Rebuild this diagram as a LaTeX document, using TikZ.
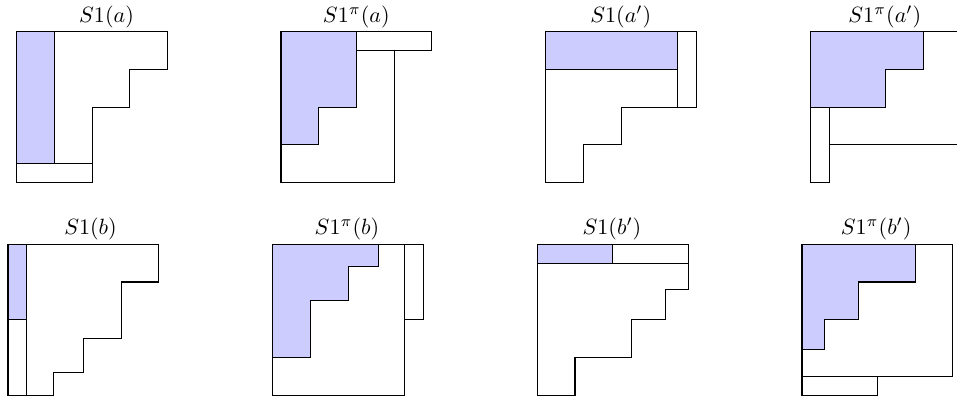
\documentclass[tikz,border=0pt]{standalone}
\begin{document}
\begin{tikzpicture}[x=0.6cm, y=-0.6cm, line width=0.5pt, line join=miter,
  part/.style={fill=blue!20, draw=black},
  cell/.style={draw=black},
  ttl/.style={anchor=base, inner sep=0pt}]
\useasboundingbox (0,0) rectangle (25.385,10.557);
\clip (0,0) rectangle (25.385,10.557);

% ---------- top row ----------
% S1(a)
\node[ttl] (ta) at (2.825,0.597) {$S1(a)$};
\begin{scope}[shift={(0.443,0.841)}]
  \draw[part] (0,0) rectangle (1,3.5);
  \draw[cell] (1,0) -- (4,0) -- (4,1) -- (3,1) -- (3,2) -- (2,2) -- (2,3.5) -- (1,3.5);
  \draw[cell] (0,3.5) rectangle (2,4);
\end{scope}

% S1^pi(a)
\node[ttl] (tpa) at (9.451,0.597) {$S1^{\pi}(a)$};
\begin{scope}[shift={(7.454,0.841)}]
  \draw[cell] (2,0.5) -- (3,0.5) -- (3,4) -- (0,4) -- (0,0);
  \draw[part] (0,0) -- (2,0) -- (2,2) -- (1,2) -- (1,3) -- (0,3) -- cycle;
  \draw[cell] (2,0) rectangle (4,0.5);
\end{scope}

% S1(a')
\node[ttl] (tap) at (16.467,0.597) {$S1(a')$};
\begin{scope}[shift={(14.475,0.841)}]
  \draw[part] (0,0) rectangle (3.5,1);
  \draw[cell] (3.5,0) rectangle (4,2);
  \draw[cell] (0,1) -- (0,4) -- (1,4) -- (1,3) -- (2,3) -- (2,2) -- (3.5,2);
\end{scope}

% S1^pi(a')
\node[ttl] (tpap) at (23.469,0.597) {$S1^{\pi}(a')$};
\begin{scope}[shift={(21.493,0.841)}]
  \draw[cell] (3,0) -- (4,0) -- (4,3) -- (0.5,3);
  \draw[part] (0,0) -- (3,0) -- (3,1) -- (2,1) -- (2,2) -- (0,2) -- cycle;
  \draw[cell] (0,2) rectangle (0.5,4);
\end{scope}

% ---------- bottom row ----------
% S1(b)
\node[ttl] (tb) at (2.401,6.233) {$S1(b)$};
\begin{scope}[shift={(0.212,6.480)}]
  \draw[part] (0,0) rectangle (0.5,2);
  \draw[cell] (0,2) rectangle (0.5,4);
  \draw[cell] (0.5,0) -- (4,0) -- (4,1) -- (3,1) -- (3,2.5) -- (2,2.5) -- (2,3.4) -- (1.2,3.4) -- (1.2,4) -- (0.5,4);
\end{scope}

% S1^pi(b)
\node[ttl] (tpb) at (9.204,6.233) {$S1^{\pi}(b)$};
\begin{scope}[shift={(7.233,6.480)}]
  \draw[cell] (0,0) rectangle (3.5,4);
  \draw[part] (0,0) -- (2.8,0) -- (2.8,0.6) -- (2,0.6) -- (2,1.5) -- (1,1.5) -- (1,3) -- (0,3) -- cycle;
  \draw[cell] (3.5,0) rectangle (4,2);
\end{scope}

% S1(b')
\node[ttl] (tbp) at (16.233,6.233) {$S1(b')$};
\begin{scope}[shift={(14.252,6.480)}]
  \draw[cell] (0,0) rectangle (4,0.5);
  \draw[part] (0,0) rectangle (2,0.5);
  \draw[cell] (0,0.5) -- (0,4) -- (1,4) -- (1,3) -- (2.5,3) -- (2.5,2) -- (3.4,2) -- (3.4,1.2) -- (4,1.2) -- (4,0.5);
\end{scope}

% S1^pi(b')
\node[ttl] (tpbp) at (23.241,6.233) {$S1^{\pi}(b')$};
\begin{scope}[shift={(21.273,6.480)}]
  \draw[cell] (0,0) rectangle (4,3.5);
  \draw[part] (0,0) -- (3,0) -- (3,1) -- (1.5,1) -- (1.5,2) -- (0.6,2) -- (0.6,2.8) -- (0,2.8) -- cycle;
  \draw[cell] (0,3.5) rectangle (2,4);
\end{scope}
\end{tikzpicture}
\end{document}
